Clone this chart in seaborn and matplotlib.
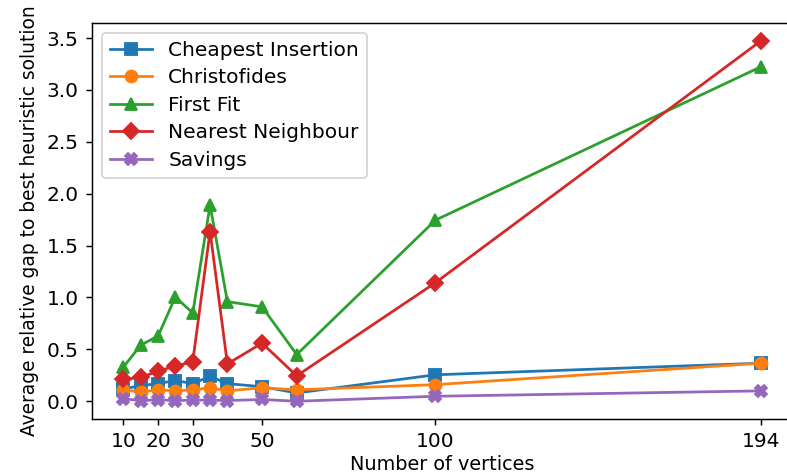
import matplotlib
matplotlib.use("Agg")
import matplotlib.pyplot as plt
import seaborn as sns
import pandas as pd

##### data #####
vertices = [10, 15, 20, 25, 30, 35, 40, 50, 60, 100, 194]

cheapest_insertion = [0.12, 0.15, 0.17, 0.20, 0.17, 0.24, 0.17, 0.14, 0.08, 0.255, 0.367]
christofides = [0.11, 0.09, 0.11, 0.10, 0.11, 0.13, 0.10, 0.13, 0.11, 0.16, 0.367]
first_fit = [0.33, 0.54, 0.63, 1.005, 0.85, 1.89, 0.96, 0.91, 0.45, 1.745, 3.225]
nearest_neighbour = [0.21, 0.23, 0.29, 0.34, 0.38, 1.636, 0.36, 0.56, 0.245, 1.142, 3.475]
savings = [0.025, 0.005, 0.015, 0.005, 0.012, 0.01, 0.007, 0.017, 0.0, 0.048, 0.10]

heuristics = ["Cheapest Insertion", "Christofides", "First Fit", "Nearest Neighbour", "Savings"]
series = [cheapest_insertion, christofides, first_fit, nearest_neighbour, savings]
markers = ["s", "o", "^", "D", "X"]
xticks = [10, 20, 30, 50, 100, 194]

rows = []
for name, vals in zip(heuristics, series):
    for v, g in zip(vertices, vals):
        rows.append({"Number of vertices": v, "gap": g, "Heuristic": name})
df = pd.DataFrame(rows)

plt.rcParams["font.size"] = 11

dpi = 132
fig = plt.figure(figsize=(787 / dpi, 475 / dpi), dpi=dpi)
ax = fig.add_axes([0.1163, 0.1173, 0.8914, 0.835])

palette = sns.color_palette("tab10")
for i, name in enumerate(heuristics):
    sub = df[df["Heuristic"] == name]
    sns.lineplot(data=sub, x="Number of vertices", y="gap", ax=ax,
                 color=palette[i], marker=markers[i], markersize=6.5,
                 markeredgecolor=palette[i], markeredgewidth=1.0,
                 linewidth=1.5, label=name)

ax.set_xticks(xticks)
ax.set_xlabel("Number of vertices", fontsize=10.5, labelpad=2)
ax.set_ylabel("Average relative gap to best heuristic solution", fontsize=10.2)
ax.legend(loc="upper left", handlelength=2.1, labelspacing=0.42)

fig.savefig("out.png", dpi=dpi)
